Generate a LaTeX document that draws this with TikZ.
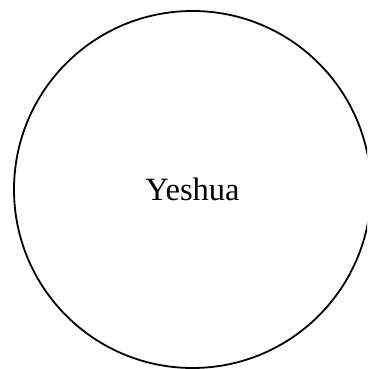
\documentclass[tikz,border=0pt]{standalone}
\usepackage{fontspec}
\setmainfont{Liberation Serif}
\usetikzlibrary{positioning}

\begin{document}
\begin{tikzpicture}[
    x=1pt, y=1pt,
    person/.style={circle, draw, line width=1.8pt, minimum size=357pt, inner sep=0pt, font=\fontsize{32.5}{38}\selectfont}
]
% Frame
\clip (0,0) rectangle (367,369);

% Circle
\node[person] (yeshua) at (192.5,179.5) {Yeshua};

\end{tikzpicture}
\end{document}
